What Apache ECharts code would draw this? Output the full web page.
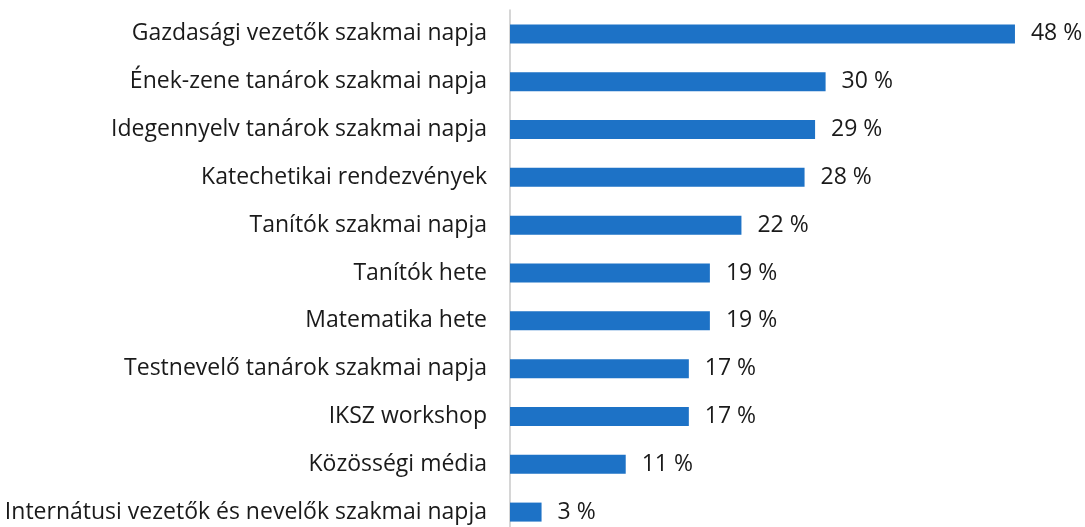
<!DOCTYPE html>
<html>
<head>
<meta charset="utf-8">
<script src="https://cdn.jsdelivr.net/npm/echarts@6/dist/echarts.min.js"></script>
<style>html,body{margin:0;padding:0;background:#fff;}#c{width:1085px;height:527px;}</style>
</head>
<body>
<div id="c"></div>
<script>
const categories = [
  "Gazdasági vezetők szakmai napja",
  "Ének-zene tanárok szakmai napja",
  "Idegennyelv tanárok szakmai napja",
  "Katechetikai rendezvények",
  "Tanítók szakmai napja",
  "Tanítók hete",
  "Matematika hete",
  "Testnevelő tanárok szakmai napja",
  "IKSZ workshop",
  "Közösségi média",
  "Internátusi vezetők és nevelők szakmai napja"
];
const values = [48, 30, 29, 28, 22, 19, 19, 17, 17, 11, 3];

const chart = echarts.init(document.getElementById('c'), null, {renderer: 'canvas'});
chart.setOption({
  animation: false,
  backgroundColor: '#ffffff',
  grid: {left: 510, top: 10, width: 526, height: 526, containLabel: false, outerBoundsMode: 'none'},
  xAxis: {
    type: 'value', min: 0, max: 50, show: false
  },
  yAxis: {
    type: 'category', data: categories, inverse: true,
    axisLine: {show: true, lineStyle: {color: '#c8c8c8', width: 1.5}},
    axisTick: {show: false},
    axisLabel: {color: '#1a1a1a', fontSize: 23, fontFamily: 'Open Sans', margin: 23}
  },
  series: [{
    type: 'bar', data: values, barWidth: 19,
    itemStyle: {color: '#1d72c6'},
    label: {show: true, position: 'right', distance: 16, formatter: '{c} %',
      color: '#1a1a1a', fontSize: 23, fontFamily: 'Open Sans'}
  }]
});
</script>
</body>
</html>
